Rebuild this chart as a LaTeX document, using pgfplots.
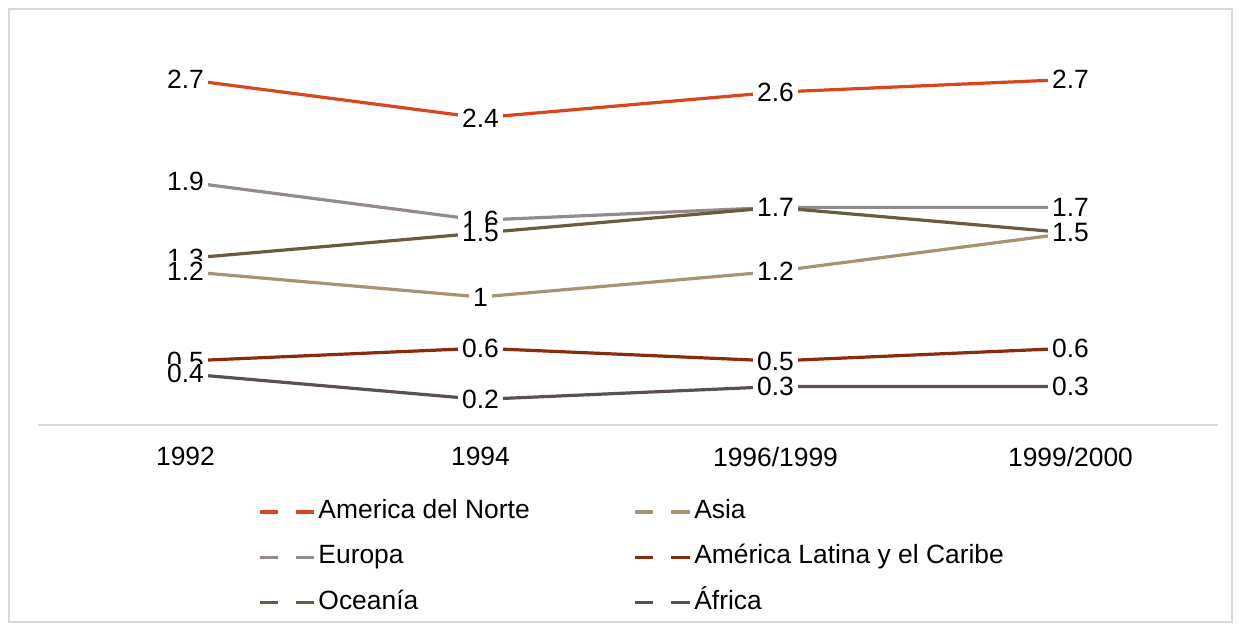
\documentclass[border=0pt]{standalone}
\usepackage{fontspec}
\setmainfont{Liberation Sans}
\usepackage{pgfplots}
\pgfplotsset{compat=1.18}
\definecolor{amn}{HTML}{D8461B}
\definecolor{eur}{HTML}{948A8D}
\definecolor{oce}{HTML}{6A5A3E}
\definecolor{asi}{HTML}{A79272}
\definecolor{aml}{HTML}{8A2B0E}
\definecolor{afr}{HTML}{5B4F55}
\definecolor{framegray}{HTML}{D9D9D9}
\newcommand\cf{\fontsize{19.8}{23}\selectfont}
\begin{document}
\begin{tikzpicture}
\useasboundingbox (0,0) rectangle (930.75pt,473.25pt);
\fill[white] (0,0) rectangle (930.75pt,473.25pt);
\draw[framegray, line width=1.5pt] (6.75pt,6.75pt) rectangle (924pt,466.5pt);
\begin{axis}[
  at={(28.5pt,154.5pt)}, anchor=south west,
  scale only axis, width=885pt, height=288pt,
  xmin=-0.5, xmax=3.5, ymin=0, ymax=3,
  axis x line*=bottom, axis y line=none,
  x axis line style={draw=framegray, line width=1.1pt},
  xtick={0,1,2,3}, xticklabels={1992,1994,1996/1999,1999/2000},
  ytick=\empty, major tick length=0pt,
  xticklabel style={font=\cf, inner sep=0pt, anchor=north, yshift=-16.5pt},
  /pgf/number format/assume math mode=true,
  clip=false,
  every node near coord/.append style={font=\cf, anchor=center, fill=white, inner xsep=3pt, inner ysep=0.6pt, text=black},
  legend image code/.code={\draw[#1, line width=2.4pt] (0pt,0pt)--(13.5pt,0pt); \draw[#1, line width=2.4pt] (27pt,0pt)--(41pt,0pt);},
  legend columns=2,
  legend cell align=left,
  legend style={draw=none, fill=none, inner sep=0pt, outer sep=0pt, font=\cf,
    at={(0.1864,-0.1953)}, anchor=north west,
    nodes={inner sep=0pt, text height=14pt, text depth=4pt},
    row sep=16pt,
    /tikz/every odd column/.append style={column sep=2pt},
    /tikz/every even column/.append style={column sep=78pt}},
]
% lines (series order)
\addplot[amn, line width=2.4pt, forget plot] coordinates {(0,2.7) (1,2.4) (2,2.6) (3,2.7)};
\addplot[eur, line width=2.4pt, forget plot] coordinates {(0,1.9) (1,1.6) (2,1.7) (3,1.7)};
\addplot[oce, line width=2.4pt, forget plot] coordinates {(0,1.3) (1,1.5) (2,1.7) (3,1.5)};
\addplot[asi, line width=2.4pt, forget plot] coordinates {(0,1.2) (1,1.0) (2,1.2) (3,1.5)};
\addplot[aml, line width=2.4pt, forget plot] coordinates {(0,0.5) (1,0.6) (2,0.5) (3,0.6)};
\addplot[afr, line width=2.4pt, forget plot] coordinates {(0,0.4) (1,0.2) (2,0.3) (3,0.3)};
% labels
\addplot[draw=none, forget plot, nodes near coords] coordinates {(0,2.7) (1,2.4) (2,2.6) (3,2.7)};
\addplot[draw=none, forget plot, nodes near coords] coordinates {(0,1.9) (1,1.6) (2,1.7) (3,1.7)};
\addplot[draw=none, forget plot, nodes near coords] coordinates {(0,1.3) (1,1.5) (2,1.7) (3,1.5)};
\addplot[draw=none, forget plot, nodes near coords] coordinates {(0,1.2) (1,1.0) (2,1.2) (3,1.5)};
\addplot[draw=none, forget plot, nodes near coords] coordinates {(0,0.5) (1,0.6) (2,0.5) (3,0.6)};
\addplot[draw=none, forget plot, nodes near coords] coordinates {(0,0.4) (1,0.2) (2,0.3) (3,0.3)};
% legend (row-wise order)
\addlegendimage{amn}\addlegendentry{America del Norte}
\addlegendimage{asi}\addlegendentry{Asia}
\addlegendimage{eur}\addlegendentry{Europa}
\addlegendimage{aml}\addlegendentry{América Latina y el Caribe}
\addlegendimage{oce}\addlegendentry{Oceanía}
\addlegendimage{afr}\addlegendentry{África}
\end{axis}
\end{tikzpicture}
\end{document}
